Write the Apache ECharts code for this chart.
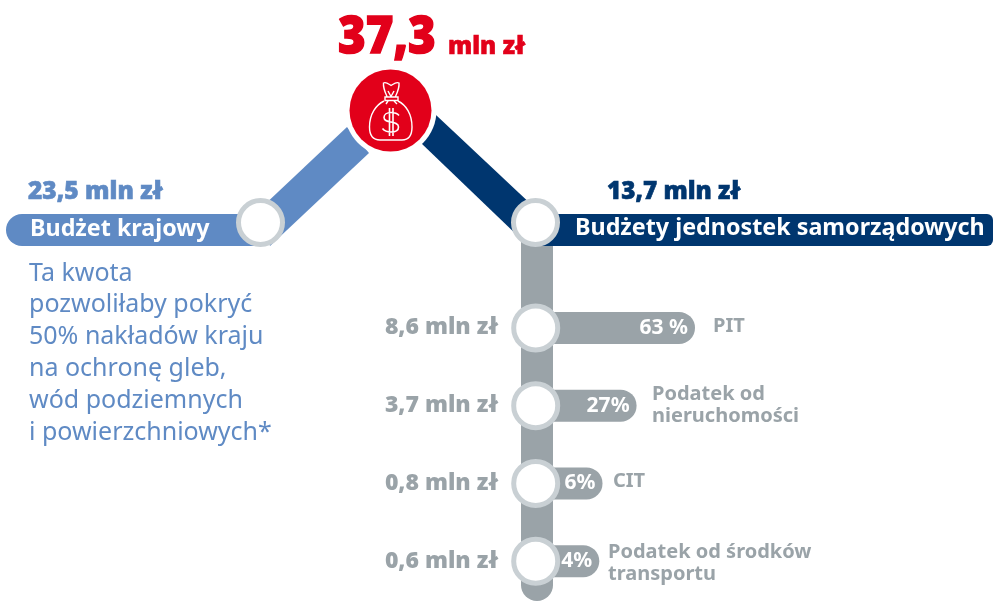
<!DOCTYPE html>
<html>
<head>
<meta charset="utf-8">
<style>
  html, body { margin: 0; padding: 0; background: #fff; }
  #main { width: 993px; height: 601px; }
</style>
<script src="https://cdn.jsdelivr.net/npm/echarts@6/dist/echarts.min.js"></script>
</head>
<body>
<div id="main"></div>
<script>
var total = '37,3';
var unit = 'mln zł';
var branchNames = ['Budżet krajowy', 'Budżety jednostek samorządowych'];
var branchValues = ['23,5', '13,7'];
var note = ['Ta kwota', 'pozwoliłaby pokryć', '50% nakładów kraju', 'na ochronę gleb,', 'wód podziemnych', 'i powierzchniowych*'];
var taxNames = ['PIT', 'Podatek od\nnieruchomości', 'CIT', 'Podatek od środków\ntransportu'];
var taxAmounts = ['8,6', '3,7', '0,8', '0,6'];
var taxShares = [63, 27, 6, 4];

var LIGHT = '#5f8ac4', NAVY = '#00366f', GREY = '#9aa3a8', RING = '#c9d0d4', RED = '#e2001a';
var FONT = '"Noto Sans", sans-serif';
var HEAVY = '"Open Sans", sans-serif';

var BAG = 'M384 101C376 105 369.500 114 369.500 127C369.500 135 373 140 380 140L402 140C409 140 412 135 412 127C412 114 406 105 398 101M385 97L398 97L398 100.500L385 100.500ZM387 96.500C385 92 383 88 383.500 83C386 81.500 388.500 84 391 85.500C393.500 84 396.500 81.500 399 83C399.500 88 397.500 92 395.500 96.500M388 91L391 96.500M394 91L391 96.500M388 101L386 104M394 101L397 104';
var DOLLAR = 'M399 115.500C397 113 394 112.500 391 112.500C387 112.500 384 114.500 384 117.500C384 124 398.500 120 398.500 127C398.500 130.500 395 132 391 132C387.500 132 384.500 131 382.500 128.500M389.500 108L389.500 136M393 108L393 136';

var myChart = echarts.init(document.getElementById('main'), null, { renderer: 'canvas' });

function txt(x, y, text, size, color, weight, family, extra, sx) {
    return {
        type: 'text', x: x, y: y, z: 5, scaleX: sx || 1,
        style: Object.assign({ text: text, fontSize: size, fill: color, fontWeight: weight, fontFamily: family,
            verticalAlign: 'middle' }, extra || {})
    };
}
function ring(x, y) {
    return { type: 'circle', z: 4, shape: { cx: x, cy: y, r: 22 }, style: { fill: '#fff', stroke: RING, lineWidth: 5 } };
}

var elements = [
    // connectors and pills
    { type: 'polygon', z: 0, shape: { points: [[261, 208], [347, 127], [369, 153], [270, 246]] }, style: { fill: LIGHT } },
    { type: 'polygon', z: 0, shape: { points: [[436, 115], [535, 208], [520, 238], [421, 143]] }, style: { fill: NAVY } },
    { type: 'rect', z: 1, shape: { x: 6, y: 214, width: 256, height: 32, r: [16, 0, 0, 16] }, style: { fill: LIGHT } },
    { type: 'rect', z: 0, shape: { x: 521, y: 223, width: 32, height: 378, r: [0, 0, 16, 16] }, style: { fill: GREY } },
    { type: 'rect', z: 1, shape: { x: 536, y: 214, width: 457, height: 32, r: [0, 6, 6, 0] }, style: { fill: NAVY } },
    // top medallion
    { type: 'circle', z: 2, shape: { cx: 390.5, cy: 110.5, r: 46 }, style: { fill: '#fff' } },
    { type: 'circle', z: 3, shape: { cx: 390.5, cy: 110.5, r: 41 }, style: { fill: RED } },
    ring(260.5, 222.5), ring(535.5, 222.5),
    // headline figures
    txt(338, 38, total, 52, RED, 800, HEAVY, { stroke: RED, lineWidth: 1.5 }, 0.91),
    txt(448, 46.5, unit, 25, RED, 800, HEAVY, { stroke: RED, lineWidth: 0.6 }, 0.97),
    txt(28, 191.5, branchValues[0] + ' ' + unit, 25, LIGHT, 800, HEAVY, { stroke: LIGHT, lineWidth: 0.6 }, 0.98),
    txt(607, 191.5, branchValues[1] + ' ' + unit, 25, NAVY, 800, HEAVY, { stroke: NAVY, lineWidth: 0.6 }, 0.97),
    txt(30, 229, branchNames[0], 23.3, '#fff', 700, FONT),
    txt(575, 228, branchNames[1], 23.3, '#fff', 700, FONT),
    // tax names
    txt(713, 326, taxNames[0], 20, GREY, 700, FONT),
    txt(652, 405, taxNames[1], 20, GREY, 700, FONT, { lineHeight: 22 }),
    txt(613, 481, taxNames[2], 20, GREY, 700, FONT),
    txt(608, 563, taxNames[3], 20, GREY, 700, FONT, { lineHeight: 22 })
];
note.forEach(function (line, i) {
    elements.push(txt(29, 273.5 + i * 31.8, line, 25, LIGHT, 400, FONT));
});

var option = {
    backgroundColor: '#fff',
    animation: false,
    grid: { left: 536, top: 289, width: 219, height: 311 },
    xAxis: { type: 'value', min: -35, max: 100, show: false },
    yAxis: {
        type: 'category', inverse: true, data: taxAmounts,
        axisLine: { show: false }, axisTick: { show: false }, splitLine: { show: false },
        axisLabel: {
            margin: 38, fontSize: 23, fontWeight: 800, color: GREY, fontFamily: HEAVY,
            padding: [0, 0, 8, 0],
            formatter: function (val) { return val + ' ' + unit; }
        }
    },
    graphic: { elements: elements },
    series: [{
        type: 'custom',
        z: 3,
        data: taxShares.map(function (v, i) { return [v, i]; }),
        encode: { x: 0, y: 1 },
        clip: false,
        renderItem: function (params, api) {
            var end = api.coord([api.value(0), api.value(1)]);
            var start = api.coord([-35, api.value(1)]);
            return {
                type: 'group',
                children: [{
                    type: 'rect',
                    shape: { x: start[0], y: end[1] - 16, width: end[0] - start[0], height: 32, r: [0, 16, 16, 0] },
                    style: { fill: GREY }
                }, {
                    type: 'text',
                    x: end[0] - 7, y: end[1],
                    style: {
                        text: api.value(0) + (params.dataIndex === 0 ? ' %' : '%'),
                        fill: '#fff', fontSize: 21, fontWeight: 700, fontFamily: FONT,
                        align: 'right', verticalAlign: 'middle'
                    }
                }, {
                    type: 'circle',
                    shape: { cx: start[0] - 0.3, cy: end[1], r: 22 },
                    style: { fill: '#fff', stroke: RING, lineWidth: 5 }
                }]
            };
        }
    }, {
        // money bag icon on the red circle
        type: 'custom',
        z: 20,
        data: [[0, 0]],
        clip: false,
        silent: true,
        renderItem: function () {
            return {
                type: 'group',
                children: [{
                    type: 'path', shape: { pathData: BAG },
                    style: { fill: 'none', stroke: '#fff', lineWidth: 1.4 }
                }, {
                    type: 'path', shape: { pathData: DOLLAR },
                    style: { fill: 'none', stroke: '#fff', lineWidth: 1.6 }
                }]
            };
        }
    }]
};
myChart.setOption(option);
</script>
</body>
</html>
